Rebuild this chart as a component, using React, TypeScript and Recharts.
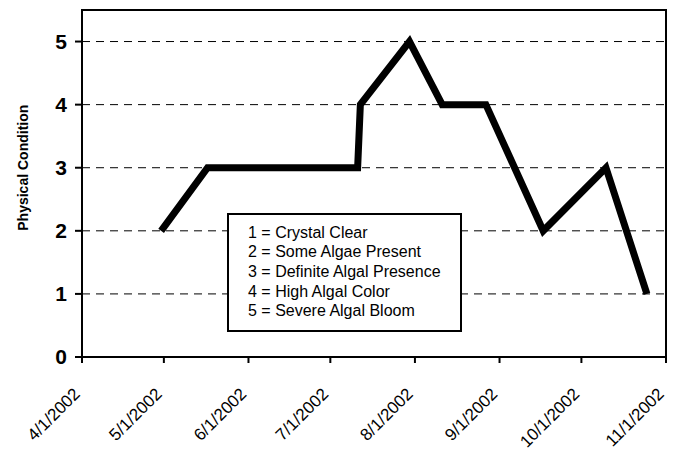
import React from 'react';
import { LineChart, Line, XAxis, YAxis, CartesianGrid, ReferenceArea } from 'recharts';

const sampleDates: string[] = [
  '2002-04-30', '2002-05-17', '2002-07-11', '2002-07-12', '2002-07-30',
  '2002-08-11', '2002-08-27', '2002-09-17', '2002-10-10', '2002-10-25',
];
const conditionValues: number[] = [2, 3, 3, 4, 5, 4, 4, 2, 3, 1];

const tickDates: string[] = [
  '2002-04-01', '2002-05-01', '2002-06-01', '2002-07-01',
  '2002-08-01', '2002-09-01', '2002-10-01', '2002-11-01',
];
const yTicks: number[] = [0, 1, 2, 3, 4, 5];
const legendLines: string[] = [
  '1 = Crystal Clear',
  '2 = Some Algae Present',
  '3 = Definite Algal Presence',
  '4 = High Algal Color',
  '5 = Severe Algal Bloom',
];

const toTs = (s: string) => {
  const [y, m, d] = s.split('-').map(Number);
  return Date.UTC(y, m - 1, d);
};

const data = sampleDates.map((d, i) => ({ t: toTs(d), v: conditionValues[i] }));
const xTicks = tickDates.map(toTs);
const xDomain: [number, number] = [xTicks[0], xTicks[xTicks.length - 1]];

const FONT = '"Liberation Sans", Arial, Helvetica, sans-serif';

const fmtDate = (ts: number) => {
  const d = new Date(ts);
  return `${d.getUTCMonth() + 1}/${d.getUTCDate()}/${d.getUTCFullYear()}`;
};

const XTick = (props: any) => {
  const { x, y, payload } = props;
  const ax = x - 1;
  const ay = y + 30;
  return (
    <text
      x={ax}
      y={ay}
      transform={`rotate(-45, ${ax}, ${ay})`}
      textAnchor="end"
      fontFamily={FONT}
      fontSize={17}
      fill="#000"
    >
      {fmtDate(payload.value)}
    </text>
  );
};

const YLabel = (props: any) => {
  const { viewBox } = props;
  const cx = 23;
  const cy = viewBox.y + viewBox.height * (2.5 / 5.5);
  return (
    <text
      x={cx}
      y={cy}
      transform={`rotate(-90, ${cx}, ${cy})`}
      textAnchor="middle"
      dominantBaseline="central"
      fontFamily={FONT}
      fontWeight="bold"
      fontSize={14}
      fill="#000"
    >
      Physical Condition
    </text>
  );
};

export default function App() {
  return (
    <div style={{ position: 'absolute', left: 0, top: 0, width: 678, height: 454, background: '#fff' }}>
      <LineChart
        width={678}
        height={454}
        data={data}
        margin={{ top: 10, right: 12, bottom: 0, left: 0 }}
      >
        <CartesianGrid
          vertical={false}
          stroke="#000"
          strokeDasharray="8 6"
          strokeWidth={1}
        />
        <ReferenceArea
          x1={xDomain[0]}
          x2={xDomain[1]}
          y1={0}
          y2={5.5}
          fill="none"
          stroke="#000"
          strokeWidth={2}
          ifOverflow="visible"
        />
        <XAxis
          dataKey="t"
          type="number"
          scale="time"
          domain={xDomain}
          ticks={xTicks}
          height={97}
          tickSize={6}
          stroke="#000"
          strokeWidth={2}
          tick={<XTick />}
          interval={0}
        />
        <YAxis
          type="number"
          domain={[0, 5.5]}
          ticks={yTicks}
          width={82}
          tickSize={7}
          tickMargin={8}
          stroke="#000"
          strokeWidth={2}
          tick={{ fontFamily: FONT, fontSize: 21, fontWeight: 'bold', fill: '#000' }}
          label={<YLabel />}
        />
        <Line
          type="linear"
          dataKey="v"
          stroke="#000"
          strokeWidth={7}
          dot={false}
          isAnimationActive={false}
          strokeLinejoin="miter"
        />
      </LineChart>
      <div
        style={{
          position: 'absolute',
          left: 227,
          top: 213,
          width: 235,
          height: 119,
          boxSizing: 'border-box',
          border: '2px solid #000',
          background: '#fff',
          paddingLeft: 19,
          paddingTop: 7.6,
          fontFamily: FONT,
          fontSize: 16,
          lineHeight: '19.7px',
          color: '#000',
        }}
      >
        {legendLines.map((l) => (
          <div key={l} style={{ whiteSpace: 'nowrap' }}>{l}</div>
        ))}
      </div>
    </div>
  );
}
